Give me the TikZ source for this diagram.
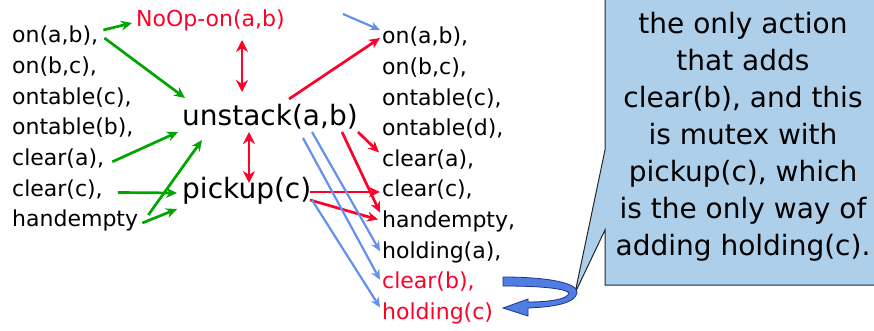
\documentclass[tikz,border=0pt]{standalone}
\usepackage{fontspec}
\setmainfont{DejaVu Sans}
\usetikzlibrary{arrows.meta}
\definecolor{gr}{RGB}{0,165,0}
\definecolor{rd}{RGB}{255,0,40}
\definecolor{bl}{RGB}{100,145,235}
\definecolor{callfill}{RGB}{174,207,234}
\definecolor{curvfill}{RGB}{80,125,225}
\definecolor{curvdraw}{RGB}{30,50,140}
\begin{document}
\begin{tikzpicture}[x=1pt,y=-1pt,
 small/.style={anchor=west,inner sep=0pt,font=\fontsize{22}{26}\selectfont,text height=16.7pt,text depth=2.9pt},
 big/.style={anchor=west,inner sep=0pt,font=\fontsize{28}{33}\selectfont,text height=21.3pt,text depth=3.6pt},
 ga/.style={draw=gr,line width=2.7pt,-{Stealth[length=11pt,width=10pt]}},
 ra/.style={draw=rd,line width=2.7pt,-{Stealth[length=11pt,width=10pt]}},
 rda/.style={draw=rd,line width=2.8pt,{Stealth[length=12pt,width=12pt]}-{Stealth[length=12pt,width=12pt]}},
 ba/.style={draw=bl,line width=2.2pt,-{Stealth[length=10pt,width=9pt]}},
 callout/.style={fill=callfill,draw=black!85,line width=1pt},
 twist/.style={fill=curvfill,draw=curvdraw,line width=0.8pt}
]
\useasboundingbox (0,0) rectangle (874,331);

% callout
\path[callout] (605,-5) -- (605,150) -- (575,293) -- (605,230) -- (605,285) -- (880,285) -- (880,-5) -- cycle;
\node[align=center,inner sep=0pt,font=\fontsize{28}{37}\selectfont] (ctext) at (743,137)
 {the only action\\that adds\\clear(b), and this\\is mutex with\\pickup(c), which\\is the only way of\\adding holding(c).};

% left column
\node[small] (l1) at (12,36) {on(a,b),};
\node[small] (l2) at (12,66.7) {on(b,c),};
\node[small] (l3) at (12,97.4) {ontable(c),};
\node[small] (l4) at (12,128) {ontable(b),};
\node[small] (l5) at (12,158.8) {clear(a),};
\node[small] (l6) at (12,189.5) {clear(c),};
\node[small] (l7) at (12,220) {handempty};

% actions
\node[small,text=rd] (noop) at (136,20) {NoOp-on(a,b)};
\node[big] (u) at (182,117) {unstack(a,b)};
\node[big] (p) at (182,190) {pickup(c)};

% right column
\node[small] (r1) at (382,37) {on(a,b),};
\node[small] (r2) at (382,67.6) {on(b,c),};
\node[small] (r3) at (382,98.2) {ontable(c),};
\node[small] (r4) at (382,128.8) {ontable(d),};
\node[small] (r5) at (382,159.4) {clear(a),};
\node[small] (r6) at (382,190) {clear(c),};
\node[small] (r7) at (382,220.6) {handempty,};
\node[small] (r8) at (382,251.2) {holding(a),};
\node[small,text=rd] (r9) at (382,281.8) {clear(b),};
\node[small,text=rd] (r10) at (382,312.4) {holding(c)};

% green precondition arrows
\draw[ga] ([shift={(5,-6)}]l1.east) -- ([shift={(-4,3)}]noop.west);
\draw[ga] ([shift={(6,2)}]l1.east) -- ([shift={(3,-19)}]u.west);
\draw[ga] ([shift={(8,3)}]l5.east) -- ([shift={(-4,15)}]u.west);
\draw[ga] ([shift={(15,3)}]l6.east) -- ([shift={(-5,3)}]p.west);
\draw[ga] ([shift={(10,-5)}]l7.east) -- ([shift={(20,23)}]u.west);
\draw[ga] ([shift={(4,3)}]l7.east) -- ([shift={(-5,19)}]p.west);

% mutex arrows
\draw[rda] ([shift={(106,20)}]noop.west) -- ([shift={(60,-25)}]u.west);
\draw[rda] ([shift={(67,15)}]u.west) -- ([shift={(67,-7)}]p.west);

% red effect arrows
\draw[ra] ([shift={(107,-18)}]u.west) -- ([shift={(-2,1)}]r1.west);
\draw[ra] ([shift={(176,15)}]u.west) -- ([shift={(-3,-7)}]r5.west);
\draw[ra] ([shift={(160,15)}]u.west) -- ([shift={(-2,-8)}]r7.west);
\draw[ra] ([shift={(128,2)}]p.west) -- ([shift={(-2,2)}]r6.west);
\draw[ra] ([shift={(128,10)}]p.west) -- ([shift={(-4,-1)}]r7.west);

% blue effect arrows
\coordinate (bstart) at (343,14);
\draw[ba] (bstart) -- ([shift={(-2,-7)}]r1.west);
\draw[ba] ([shift={(130,15)}]u.west) -- ([shift={(-2,0)}]r8.west);
\draw[ba] ([shift={(121,21)}]u.west) -- ([shift={(-2,-2)}]r9.west);
\draw[ba] ([shift={(130,10)}]p.west) -- ([shift={(-2,-5)}]r10.west);

% twisted block arrow
\path[twist] (503,277) .. controls (548,277) and (579,283) .. (577,293)
 .. controls (575,303) and (555,307) .. (528,308) -- (528,316) -- (503,308) -- (528,299) -- (528,302)
 .. controls (550,302) and (568,299) .. (569,293)
 .. controls (566,289) and (545,286) .. (503,286) -- cycle;
\end{tikzpicture}
\end{document}
